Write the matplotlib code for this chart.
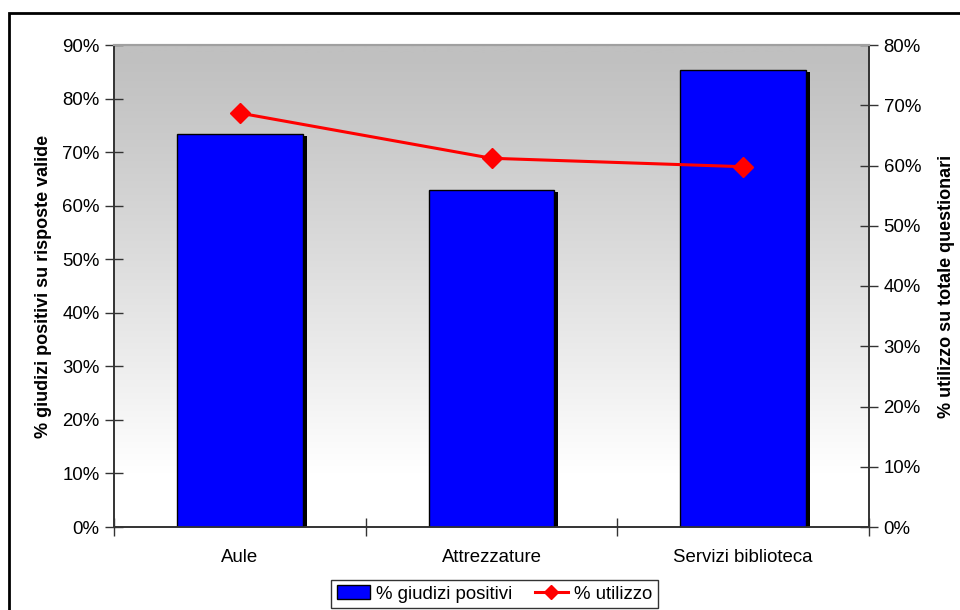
import numpy as np
import matplotlib
matplotlib.use("Agg")
import matplotlib.pyplot as plt
from matplotlib.transforms import ScaledTranslation
from matplotlib.ticker import FuncFormatter, MultipleLocator, FixedLocator
from matplotlib.patches import Rectangle

plt.rcParams['font.family'] = ['Liberation Sans', 'DejaVu Sans']

categories = ["Aule", "Attrezzature", "Servizi biblioteca"]
giudizi_positivi = [73.3, 62.9, 85.4]   # % giudizi positivi (asse sinistro)
utilizzo = [68.7, 61.2, 59.8]           # % utilizzo (asse destro)

fig = plt.figure(figsize=(9.6, 6.1), dpi=100)
ax = fig.add_axes([114 / 960, 83 / 610, 755 / 960, 482 / 610])
ax2 = ax.twinx()

x = np.arange(len(categories))

# background gradient: grey on top fading to white at the bottom
t = np.linspace(0, 1, 256).reshape(-1, 1)
shade = 192 + 63 * np.clip((1 - t) * 1.15 - 0.02, 0, 1) ** 1.1
shade = np.clip(shade, 192, 255) / 255.0
grad = np.dstack([shade, shade, shade])
ax.imshow(grad, extent=[-0.5, len(categories) - 0.5, 0, 90], aspect='auto',
          origin='lower', zorder=0, interpolation='bilinear')

# bars with a drop shadow
shadow = ax.transData + ScaledTranslation(4 / 100, -2 / 100, fig.dpi_scale_trans)
ax.bar(x, giudizi_positivi, width=0.5, color='black', zorder=2, transform=shadow)
ax.bar(x, giudizi_positivi, width=0.5, color='#0000FF', edgecolor='black',
       linewidth=1.0, zorder=3, label='% giudizi positivi')

ax.set_xlim(-0.5, len(categories) - 0.5)
ax.set_ylim(0, 90)
ax2.set_ylim(0, 80)

ax2.plot(x, utilizzo, color='#FF0000', linewidth=2.2, marker='D', markersize=10.5,
         zorder=5, label='% utilizzo')

pct = FuncFormatter(lambda v, p: f"{v:.0f}%")
ax.yaxis.set_major_locator(MultipleLocator(10))
ax.yaxis.set_major_formatter(pct)
ax2.yaxis.set_major_locator(MultipleLocator(10))
ax2.yaxis.set_major_formatter(pct)

ax.set_xticks(x)
ax.set_xticklabels(categories)
ax.xaxis.set_minor_locator(FixedLocator(np.arange(len(categories) + 1) - 0.5))
ax.tick_params(axis='x', which='major', length=0, pad=16, labelsize=13.4)
ax.tick_params(axis='x', which='minor', direction='inout', length=13, width=1.0, color='#333333')
ax.tick_params(axis='y', direction='inout', length=13, width=1.0, color='#333333',
               labelsize=13.4, pad=4)
ax2.tick_params(axis='y', direction='inout', length=13, width=1.0, color='#333333',
                labelsize=13.4, pad=4)

for a in (ax, ax2):
    a.spines['left'].set_color('#333333')
    a.spines['right'].set_color('#333333')
    a.spines['bottom'].set_color('#333333')
    a.spines['top'].set_color('#A0A0A0')
    a.spines['top'].set_linewidth(1.5)
    a.spines['left'].set_linewidth(1.2)
    a.spines['right'].set_linewidth(1.2)
    a.spines['bottom'].set_linewidth(1.2)

ax.set_ylabel('% giudizi positivi su risposte valide', fontsize=13, fontweight='bold', labelpad=7)
ax2.set_ylabel('% utilizzo su totale questionari', fontsize=13, fontweight='bold', labelpad=12)

h1, l1 = ax.get_legend_handles_labels()
h2, l2 = ax2.get_legend_handles_labels()
leg = fig.legend(h1 + h2, l1 + l2, loc='center', bbox_to_anchor=(494.5 / 960, 1 - 594 / 610),
                 ncol=2, fontsize=13.4, frameon=True, fancybox=False, edgecolor='black',
                 handlelength=1.8, handletextpad=0.3, columnspacing=1.2, markerscale=0.7,
                 borderpad=0.3, borderaxespad=0)
leg.get_frame().set_linewidth(1.0)

# outer chart frame
fig.patches.append(Rectangle((9 / 960, -0.1), 1.2, 1 - 13 / 610 + 0.1, transform=fig.transFigure,
                             fill=False, edgecolor='black', linewidth=2.0, zorder=10))

fig.savefig('out.png', dpi=100)
